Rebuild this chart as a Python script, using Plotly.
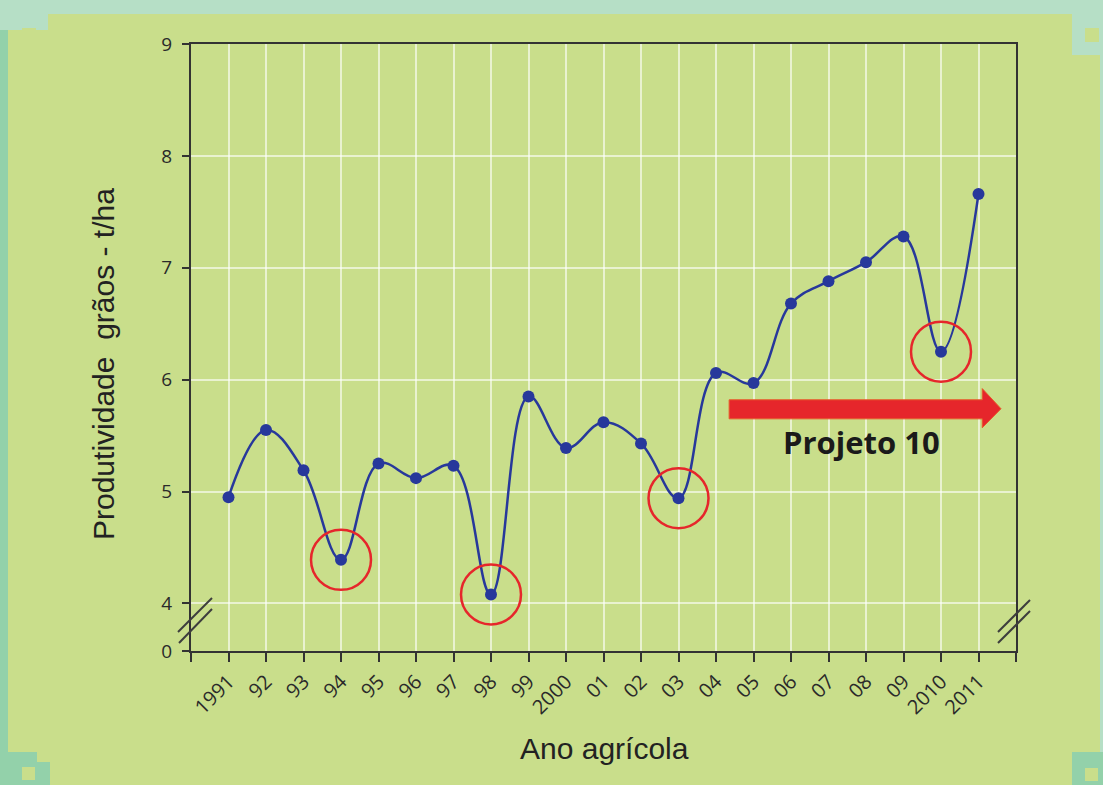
import plotly.graph_objects as go

# ---------------- data ----------------
years = list(range(1991, 2012))
year_labels = ["1991", "92", "93", "94", "95", "96", "97", "98", "99", "2000",
               "01", "02", "03", "04", "05", "06", "07", "08", "09", "2010", "2011"]
productivity = [4.95, 5.55, 5.19, 4.39, 5.25, 5.12, 5.23, 4.08, 5.85, 5.39,
                5.62, 5.43, 4.94, 6.06, 5.97, 6.68, 6.88, 7.05, 7.28, 6.25, 7.66]
circled_years = [1994, 1998, 2003, 2010]
y_tick_vals = [3.575, 4, 5, 6, 7, 8, 9]
y_tick_text = ["0", "4", "5", "6", "7", "8", "9"]

# ---------------- style ----------------
W, H = 1103, 785
ML, MR, MT, MB = 191, 87, 44, 134
PW, PH = W - ML - MR, H - MT - MB
BG = "#c9de8b"
AXC = "#333333"
GRID = "rgba(255,255,255,0.6)"
BLUE = "#27389b"
RED = "#e6262b"


def px(x):
    return (x - ML) / PW


def py(y):
    return (H - MB - y) / PH


fig = go.Figure()

fig.add_trace(go.Scatter(
    x=years, y=productivity, mode="lines+markers",
    line=dict(color=BLUE, width=2.5, shape="spline", smoothing=1.1),
    marker=dict(color=BLUE, size=12),
    showlegend=False, hoverinfo="x+y",
))

circ_y = [productivity[years.index(y)] for y in circled_years]
fig.add_trace(go.Scatter(
    x=circled_years, y=circ_y, mode="markers",
    marker=dict(symbol="circle-open", size=60, color=RED, line=dict(width=2.5, color=RED)),
    showlegend=False, hoverinfo="skip",
))

shapes = []


def rect(x0, y0, x1, y1, color):
    shapes.append(dict(type="rect", xref="paper", yref="paper",
                       x0=px(x0), x1=px(x1), y0=py(y1), y1=py(y0),
                       fillcolor=color, line=dict(width=0), layer="below"))


TEAL_L = "#b6dfc6"
TEAL_D = "#93d1aa"
rect(0, 0, W, 14, TEAL_L)
rect(0, 14, 8, H, TEAL_D)
rect(W - 3, 14, W, H, TEAL_L)
rect(0, 14, 48, 30, TEAL_L)
rect(22, 28, 36, 40, BG)
rect(1072, 14, W, 55, TEAL_L)
rect(1085, 28, 1099, 42, BG)
rect(0, 752, 37, H, TEAL_D)
rect(37, 762, 50, H, TEAL_D)
rect(22, 767, 35, 780, BG)
rect(1072, 752, W, H, TEAL_D)
rect(1085, 768, 1098, 781, BG)


def seg(x0, y0, x1, y1):
    shapes.append(dict(type="line", xref="paper", yref="paper",
                       x0=px(x0), y0=py(y0), x1=px(x1), y1=py(y1),
                       line=dict(color="#3d3d3d", width=2)))


seg(178, 632, 212, 598)
seg(179, 643, 212, 609)
seg(998, 632, 1030, 600)
seg(998, 643, 1030, 611)

# red arrow (data coords)
shapes.append(dict(
    type="path", xref="x", yref="y",
    path="M 2004.35 5.82 L 2011.1 5.82 L 2011.1 5.92 L 2011.6 5.74 "
         "L 2011.1 5.57 L 2011.1 5.65 L 2004.35 5.65 Z",
    fillcolor=RED, line=dict(color="#e85a2a", width=1),
))

annotations = [
    dict(text="<b>Projeto 10</b>", xref="paper", yref="paper", x=px(861), y=py(442),
         xanchor="center", yanchor="middle", showarrow=False,
         font=dict(family="Open Sans", size=31, color="#1a1a1a")),
    dict(text="Produtividade \u00a0grãos - t/ha", xref="paper", yref="paper",
         x=px(103), y=py(364), xanchor="center", yanchor="middle",
         textangle=-90, showarrow=False,
         font=dict(family="Liberation Sans", size=30, color="#222222")),
    dict(text="Ano agrícola", xref="paper", yref="paper", x=px(604), y=py(748),
         xanchor="center", yanchor="middle", showarrow=False,
         font=dict(family="Liberation Sans", size=30, color="#222222")),
]

fig.update_layout(
    width=W, height=H,
    margin=dict(l=ML, r=MR, t=MT, b=MB),
    paper_bgcolor=BG, plot_bgcolor=BG,
    shapes=shapes, annotations=annotations,
    xaxis=dict(
        range=[1990, 2012], tickmode="array",
        tickvals=[1990] + years + [2012], ticktext=[""] + year_labels + [""],
        tickangle=-45, ticks="outside", ticklen=9, tickwidth=1.5, tickcolor=AXC,
        showline=True, linecolor=AXC, linewidth=2, mirror=True,
        showgrid=True, gridcolor=GRID, gridwidth=2, zeroline=False,
        tickfont=dict(family="Open Sans", size=20, color="#2a2a2a"),
    ),
    yaxis=dict(
        range=[3.575, 9], tickmode="array", tickvals=y_tick_vals, ticktext=y_tick_text,
        ticks="outside", ticklen=7, tickwidth=1.5, tickcolor=AXC,
        showline=True, linecolor=AXC, linewidth=2, mirror=True,
        showgrid=True, gridcolor=GRID, gridwidth=2, zeroline=False,
        tickfont=dict(family="Open Sans", size=19, color="#2a2a2a"),
        ticklabelstandoff=6,
    ),
)

fig.write_html(
    "out.html",
    config={"displayModeBar": False},
    post_script="document.body.style.margin='0';document.body.style.background='" + BG + "';",
)
